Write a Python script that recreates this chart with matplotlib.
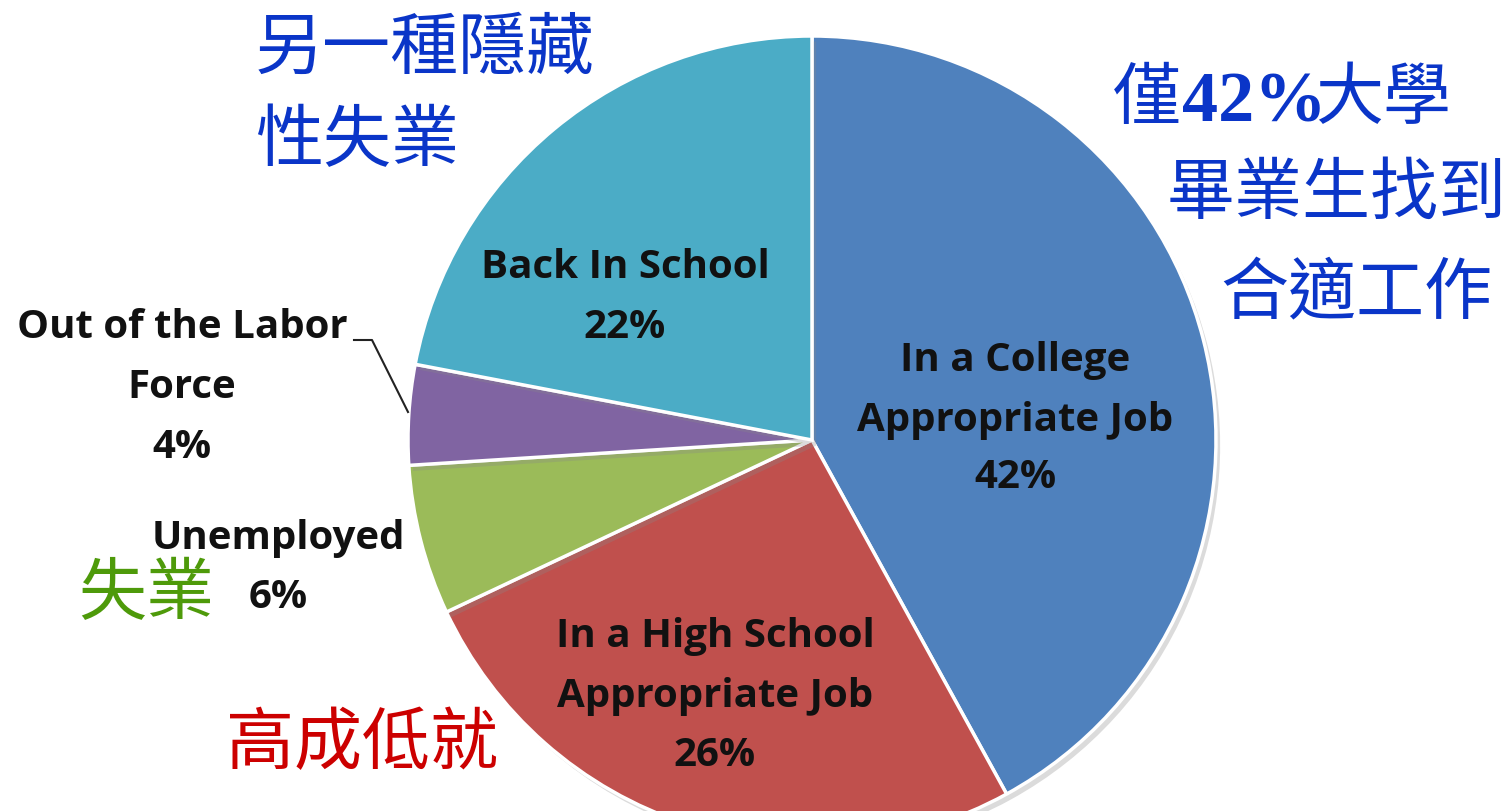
import matplotlib
matplotlib.use("Agg")
import matplotlib.pyplot as plt
import matplotlib.patheffects as pe

categories = ["In a College\nAppropriate Job", "In a High School\nAppropriate Job",
              "Unemployed", "Out of the Labor\nForce", "Back In School"]
values = [42, 26, 6, 4, 22]
colors = ["#4F81BD", "#C0504D", "#9BBB59", "#8064A2", "#4BACC6"]

W, H = 1509, 811
fig = plt.figure(figsize=(W / 100, H / 100), dpi=100)
ax = fig.add_axes([0, 0, 1, 1])

def Y(y):
    return H - y

cx, cy, r = 812, 440, 404
wedges, _ = ax.pie(values, colors=colors, startangle=90, counterclock=False,
                   center=(cx, Y(cy)), radius=r, frame=True,
                   wedgeprops=dict(edgecolor="white", linewidth=2.5))
for w in wedges:
    w.set_path_effects([pe.SimplePatchShadow(offset=(3, -4), shadow_rgbFace="#888888", alpha=0.3),
                        pe.Normal()])
ax.set_xlim(0, W)
ax.set_ylim(0, H)
ax.set_aspect("equal")
ax.axis("off")

lab_font = dict(family=["Open Sans", "DejaVu Sans"], fontweight="bold", fontsize=29, color="#111111")

def lab(lines, x, ys):
    for t, y in zip(lines, ys):
        ax.text(x, Y(y), t, ha="center", va="center", **lab_font)

lab(categories[0].split("\n") + [f"{values[0]}%"], 1015, [360, 420, 478])
lab(categories[1].split("\n") + [f"{values[1]}%"], 715, [637, 697, 755])
lab([categories[2], f"{values[2]}%"], 278, [538, 598])
lab(categories[3].split("\n") + [f"{values[3]}%"], 182, [327, 387, 447])
lab([categories[4], f"{values[4]}%"], 625, [267, 327])

# leader line for Out of the Labor Force
ax.plot([354, 372, 408], [Y(340), Y(340), Y(412)], color="#222222", lw=1.5)

cjk = ["Noto Sans CJK TC", "DejaVu Sans"]
blue = "#0A35C8"
green = "#4E9A0A"
red = "#CC0000"
fs = 49

def ctext(x, y, t, color, ha="left", family=cjk, weight="normal", size=fs):
    ax.text(x, Y(y), t, ha=ha, va="center", family=family, fontsize=size,
            color=color, fontweight=weight)

ctext(255, 50, "另一種隱藏", blue)
ctext(255, 142, "性失業", blue)
ctext(1113, 100, "僅", blue)
ctext(1182, 104, "42%", blue, family=["Liberation Serif"], weight="bold", size=52)
ctext(1315, 100, "大學", blue)
ctext(1507, 195, "畢業生找到", blue, ha="right")
ctext(1492, 295, "合適工作", blue, ha="right")
ctext(78, 595, "失業", green)
ctext(226, 745, "高成低就", red)

fig.savefig("out.png", dpi=100)
